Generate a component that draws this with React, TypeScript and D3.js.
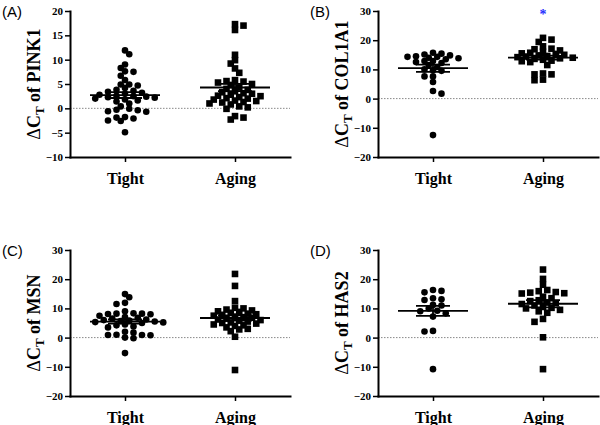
import * as d3 from 'd3';
import * as React from 'react';

const { useRef, useEffect } = React;

const width = 600;
const height = 425;
const plotW = 220;
const plotH = 146;
const colLeft = [70, 378];
const rowTop = [11, 250];

const groups = ['Tight', 'Aging'];
const panelLabels = ['(A)', '(B)', '(C)', '(D)'];
const genes = ['PINK1', 'COL1A1', 'MSN', 'HAS2'];
const ticksA = [-10, -5, 0, 5, 10, 15, 20];
const ticksWide = [-20, -10, 0, 10, 20, 30];

// delta Ct values
const tightPINK1 = [
  11.9, 11.1, 9.0, 8.3, 7.6, 7.5, 6.7, 5.8, 4.9, 4.9, 4.7, 4.2, 3.8, 3.6, 3.4,
  3.2, 3.0, 2.8, 2.6, 2.5, 2.4, 2.3, 2.2, 2.0, 1.8, 1.6, 1.4, 1.0, 0.4, -0.1,
  -0.3, -0.4, -0.6, -0.7, -1.8, -1.9, -2.1, -2.5, -2.6, -4.9,
];
const agingPINK1 = [
  17.3, 17.0, 16.1, 11.0, 9.9, 9.2, 8.2, 7.3, 5.8, 5.6, 5.5, 5.3, 5.0, 4.8,
  4.3, 4.0, 3.8, 3.5, 3.3, 3.1, 3.0, 2.8, 2.6, 2.5, 2.3, 2.1, 2.0, 1.8, 1.6,
  1.5, 1.3, 1.2, 1.0, 0.8, 0.4, 0.2, -0.1, -1.6, -1.9, -2.3,
];
const tightCOL1A1 = [
  15.7, 15.4, 15.1, 14.8, 14.5, 14.3, 14.3, 14.0, 13.8, 13.5, 12.9, 12.9, 12.5,
  12.2, 11.5, 10.8, 10.0, 9.7, 9.5, 7.6, 7.6, 5.7, 2.6, 1.7, -12.5,
];
const agingCOL1A1 = [
  20.8, 20.2, 19.4, 17.9, 17.1, 16.9, 16.5, 16.0, 15.7, 15.5, 15.3, 15.0, 14.8,
  14.6, 14.4, 14.2, 14.0, 13.8, 13.6, 13.3, 13.0, 12.8, 12.5, 11.5, 8.6, 8.3,
  8.3, 6.5, 6.3,
];
const tightMSN = [
  14.9, 13.8, 11.9, 11.5, 9.0, 8.3, 8.2, 8.2, 8.1, 8.0, 7.5, 7.0, 6.8, 6.5,
  6.2, 6.0, 5.8, 5.7, 5.5, 5.3, 5.2, 5.0, 4.5, 4.2, 3.8, 3.5, 2.0, 1.7, 1.0,
  0.9, 0.9, 0.8, 0.0, -0.2, -5.3,
];
const agingMSN = [
  21.8, 17.7, 12.5, 10.2, 10.0, 9.6, 9.3, 9.0, 8.8, 8.5, 8.2, 8.0, 7.8, 7.5,
  7.2, 7.0, 6.8, 6.5, 6.2, 6.0, 5.8, 5.5, 5.2, 5.0, 4.8, 4.5, 4.2, 4.0, 3.5,
  3.0, 2.8, 2.2, 0.3, -11.1,
];
const tightHAS2 = [
  16.3, 16.0, 15.5, 13.5, 13.1, 12.9, 11.2, 11.0, 10.0, 9.2, 9.0, 8.3, 7.2,
  2.3, 2.1, -10.8,
];
const agingHAS2 = [
  23.3, 20.1, 18.1, 16.3, 15.9, 15.6, 15.4, 15.2, 15.1, 14.0, 13.5, 12.8, 12.5,
  12.0, 11.8, 11.5, 11.0, 10.5, 10.2, 10.0, 9.5, 9.0, 8.5, 6.4, 5.4, 0.1,
  -10.8,
];

const panels = [
  { series: [tightPINK1, agingPINK1], domain: [-10, 20], ticks: ticksA },
  { series: [tightCOL1A1, agingCOL1A1], domain: [-20, 30], ticks: ticksWide },
  { series: [tightMSN, agingMSN], domain: [-20, 30], ticks: ticksWide },
  { series: [tightHAS2, agingHAS2], domain: [-20, 30], ticks: ticksWide },
];

const serif = '"Liberation Serif", "Times New Roman", serif';

// Prism-like scatter: each point goes to the free slot nearest the centre
// (a little overlap is allowed, as in the original)
function swarm(values: number[], y: d3.ScaleLinear<number, number>, cx: number) {
  const minDist = 5.3;
  const step = 4.25;
  const placed: { v: number; px: number; py: number }[] = [];
  let flip = 1;
  values
    .slice()
    .sort((a, b) => b - a)
    .forEach(v => {
      const py = y(v);
      const free = (px: number) =>
        placed.every(p => (p.px - px) ** 2 + (p.py - py) ** 2 >= minDist ** 2);
      let px = cx;
      for (let k = 0; k < 40; k++) {
        const cands = k === 0 ? [0] : [flip * k * step, -flip * k * step];
        const hit = cands.find(o => free(cx + o));
        if (hit !== undefined) {
          px = cx + hit;
          if (hit !== 0) flip = -Math.sign(hit);
          break;
        }
      }
      placed.push({ v, px, py });
    });
  return placed;
}

export default () => {
  const svgRef = useRef<SVGSVGElement>(null);

  useEffect(() => {
    const svgEl = svgRef.current;
    if (!svgEl) {
      return;
    }
    const svg = d3.select(svgEl);
    svg.selectAll('*').remove();

    panels.forEach((p, i) => {
      const left = colLeft[i % 2];
      const top = rowTop[Math.floor(i / 2)];

      const y = d3.scaleLinear().domain(p.domain).range([plotH, 0]);
      const x = d3.scalePoint().domain(groups).range([0, plotW]).padding(0.5);

      svg
        .append('text')
        .attr('x', left - 68)
        .attr('y', top + 6)
        .attr('font-family', '"Liberation Sans", Arial, sans-serif')
        .attr('font-size', 15)
        .text(panelLabels[i]);

      const g = svg.append('g').attr('transform', `translate(${left},${top})`);

      g.append('line')
        .attr('x1', 0)
        .attr('x2', plotW)
        .attr('y1', y(0))
        .attr('y2', y(0))
        .attr('stroke', '#888')
        .attr('stroke-width', 1)
        .attr('stroke-dasharray', '1.5,1.5');

      p.series.forEach((vals, gi) => {
        const cx = x(groups[gi]) as number;
        const pts = swarm(vals, y, cx);
        if (gi === 0) {
          g.append('g')
            .selectAll('circle')
            .data(pts)
            .join('circle')
            .attr('cx', d => d.px)
            .attr('cy', d => d.py)
            .attr('r', 3.3)
            .attr('fill', '#000');
        } else {
          g.append('g')
            .selectAll('rect')
            .data(pts)
            .join('rect')
            .attr('x', d => d.px - 3.3)
            .attr('y', d => d.py - 3.3)
            .attr('width', 6.6)
            .attr('height', 6.6)
            .attr('fill', '#000');
        }

        const mean = d3.mean(vals) as number;
        const sem = (d3.deviation(vals) as number) / Math.sqrt(vals.length);
        const stats = g
          .append('g')
          .attr('stroke', '#000')
          .attr('stroke-width', 1.8);
        stats
          .append('line')
          .attr('x1', cx - 35)
          .attr('x2', cx + 35)
          .attr('y1', y(mean))
          .attr('y2', y(mean));
        [mean - sem, mean + sem].forEach(v => {
          stats
            .append('line')
            .attr('x1', cx - 17)
            .attr('x2', cx + 17)
            .attr('y1', y(v))
            .attr('y2', y(v));
        });
        stats
          .append('line')
          .attr('x1', cx)
          .attr('x2', cx)
          .attr('y1', y(mean - sem))
          .attr('y2', y(mean + sem));
      });

      const yAxis = g
        .append('g')
        .call(
          d3
            .axisLeft(y)
            .tickValues(p.ticks)
            .tickSize(5)
            .tickPadding(2)
            .tickSizeOuter(0),
        );
      const xAxis = g
        .append('g')
        .attr('transform', `translate(0,${plotH})`)
        .call(d3.axisBottom(x).tickSize(5).tickPadding(11).tickSizeOuter(0));

      [yAxis, xAxis].forEach(ax => {
        ax.attr('font-family', serif).attr('font-weight', 'bold');
        ax.select('.domain')
          .attr('stroke-width', 2)
          .attr('stroke-linecap', 'square');
        ax.selectAll('.tick line').attr('stroke-width', 1.5);
      });
      yAxis.attr('font-size', 11);
      xAxis.attr('font-size', 16);

      const label = svg
        .append('text')
        .attr(
          'transform',
          `translate(${left - 30},${top + plotH / 2}) rotate(-90)`,
        )
        .attr('text-anchor', 'middle')
        .attr('font-family', serif)
        .attr('font-weight', 'bold')
        .attr('font-size', 18);
      label.append('tspan').attr('font-weight', 'normal').text('Δ');
      label.append('tspan').text('C');
      label
        .append('tspan')
        .attr('dy', 4)
        .attr('font-size', 13)
        .text('T');
      label.append('tspan').attr('dy', -4).text(` of ${genes[i]}`);

      if (i === 1) {
        g.append('text')
          .attr('x', x('Aging') as number)
          .attr('y', 8)
          .attr('text-anchor', 'middle')
          .attr('font-family', serif)
          .attr('font-weight', 'bold')
          .attr('font-size', 14)
          .attr('fill', '#1f2fff')
          .text('*');
      }
    });
  }, []);

  return (
    <svg
      ref={svgRef}
      width={width}
      height={height}
      style={{ position: 'absolute', left: 0, top: 0, background: '#fff' }}
    />
  );
};
